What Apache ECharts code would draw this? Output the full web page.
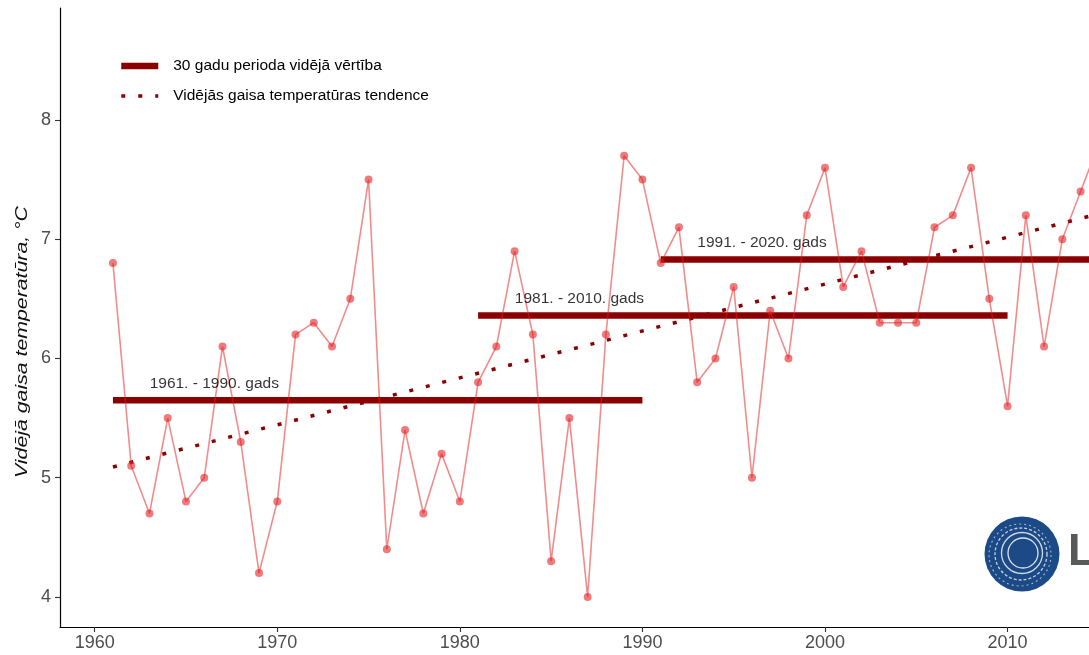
<!DOCTYPE html>
<html><head><meta charset="utf-8">
<script src="https://cdn.jsdelivr.net/npm/echarts@6/dist/echarts.min.js"></script>
<style>html,body{margin:0;padding:0;background:#fff;overflow:hidden}#c{width:1089px;height:655px}</style>
</head><body><div id="c"></div>
<script>
const years = [1961,1962,1963,1964,1965,1966,1967,1968,1969,1970,
  1971,1972,1973,1974,1975,1976,1977,1978,1979,1980,
  1981,1982,1983,1984,1985,1986,1987,1988,1989,1990,
  1991,1992,1993,1994,1995,1996,1997,1998,1999,2000,
  2001,2002,2003,2004,2005,2006,2007,2008,2009,2010,
  2011,2012,2013,2014,2015];
const temps = [6.8,5.1,4.7,5.5,4.8,5.0,6.1,5.3,4.2,4.8,
  6.2,6.3,6.1,6.5,7.5,4.4,5.4,4.7,5.2,4.8,
  5.8,6.1,6.9,6.2,4.3,5.5,4.0,6.2,7.7,7.5,
  6.8,7.1,5.8,6.0,6.6,5.0,6.4,6.0,7.2,7.6,
  6.6,6.9,6.3,6.3,6.3,7.1,7.2,7.6,6.5,5.6,
  7.2,6.1,7.0,7.4,7.8];
const periodStart = [1961,1981,1991];
const periodEnd = [1990,2010,2020];
const periodMean = [5.65,6.36,6.83];
const periodLabels = ['1961. - 1990. gads','1981. - 2010. gads','1991. - 2020. gads'];
const trendYears = [1961,2020];
const trendValues = [5.09,7.41];
const xTicks = [1960,1970,1980,1990,2000,2010,2020];
const yTicks = [4,5,6,7,8];
const meanName = '30 gadu perioda vidējā vērtība';
const trendName = 'Vidējās gaisa temperatūras tendence';
const yTitle = 'Vidējā gaisa temperatūra, °C';

const FONT = 'Liberation Sans, Arial, sans-serif';
const DARK = '#8B0000';
const series = [];
periodStart.forEach((s,i)=>{
  series.push({
    name: meanName, type:'line', symbol:'none', showSymbol:false, z:1,
    lineStyle:{color:DARK,width:6.5,cap:'butt'}, itemStyle:{color:DARK},
    data:[[s,periodMean[i]],[periodEnd[i],periodMean[i]]]
  });
});
series.push({
  name: trendName, type:'line', symbol:'none', showSymbol:false, z:2,
  lineStyle:{color:DARK,width:3.5,type:[4,13],cap:'butt'}, itemStyle:{color:DARK},
  data: trendYears.map((y,i)=>[y,trendValues[i]])
});
series.push({
  name:'temp', type:'line', z:3, symbol:'circle', symbolSize:8,
  lineStyle:{color:'rgba(228,26,28,0.5)',width:1.6},
  itemStyle:{color:'rgba(228,26,28,0.58)'},
  data: years.map((y,i)=>[y,temps[i]])
});
series.push({
  name:'labels', type:'scatter', symbolSize:0, z:4, silent:true,
  label:{show:true,position:'inside',formatter:p=>p.name,color:'#000',fontSize:15.5,fontFamily:FONT},
  data: periodStart.map((s,i)=>({name:periodLabels[i],value:[s+5.55,periodMean[i]+0.14]}))
});

const chart = echarts.init(document.getElementById('c'));
chart.setOption({
  animation:false,
  backgroundColor:'#fff',
  textStyle:{fontFamily:FONT},
  grid:{left:60,top:8,right:-155,bottom:28,containLabel:false,outerBoundsMode:'none'},
  legend:{
    data:[
      {name:meanName,itemStyle:{opacity:0}},
      {name:trendName,itemStyle:{opacity:0}}
    ],
    orient:'vertical', left:113, top:53,
    itemWidth:37, itemHeight:16, itemGap:14,
    itemStyle:{opacity:0},
    lineStyle:{width:'inherit',type:'inherit'},
    textStyle:{fontSize:15.5,lineHeight:16,color:'#000',padding:[0,0,0,10]},
    selectedMode:false
  },
  xAxis:{
    type:'value', min:1958.1, max:2022.95,
    axisLine:{show:true,lineStyle:{color:'#000',width:1.2}},
    axisTick:{show:true,length:5,lineStyle:{color:'#333',width:1.1},customValues:xTicks},
    axisLabel:{color:'#4D4D4D',fontSize:18,margin:7,customValues:xTicks,formatter:v=>String(v)},
    splitLine:{show:false}
  },
  yAxis:{
    type:'value', min:3.748, max:8.939,
    axisLine:{show:true,lineStyle:{color:'#000',width:1.2}},
    axisTick:{show:true,length:5,lineStyle:{color:'#333',width:1.1},customValues:yTicks},
    axisLabel:{color:'#4D4D4D',fontSize:18,margin:9,customValues:yTicks},
    splitLine:{show:false}
  },
  graphic:[
    {type:'text',x:23,y:342,rotation:Math.PI/2,scaleX:1.33,silent:true,
     style:{text:yTitle,fontSize:16,fontStyle:'italic',fill:'#111',align:'center',verticalAlign:'middle',fontFamily:FONT}},
    {type:'circle',shape:{cx:1022,cy:554,r:37.5},style:{fill:'#1B4A86'},silent:true},
    {type:'circle',shape:{cx:1023,cy:553,r:15},style:{fill:'none',stroke:'rgba(255,255,255,0.85)',lineWidth:1.3},silent:true},
    {type:'circle',shape:{cx:1022,cy:553,r:20.5},style:{fill:'none',stroke:'rgba(255,255,255,0.8)',lineWidth:1.3},silent:true},
    {type:'circle',shape:{cx:1021,cy:554,r:26},style:{fill:'none',stroke:'rgba(255,255,255,0.75)',lineWidth:1.3,lineDash:[3,2]},silent:true},
    {type:'circle',shape:{cx:1020,cy:555,r:31},style:{fill:'none',stroke:'rgba(255,255,255,0.6)',lineWidth:1.1,lineDash:[2,3]},silent:true},
    {type:'text',x:1068,y:553,silent:true,
     style:{text:'LVĢMC',fontSize:45,fontWeight:'bold',fill:'#58595B',align:'left',verticalAlign:'middle',fontFamily:FONT}}
  ],
  series
});
</script></body></html>
